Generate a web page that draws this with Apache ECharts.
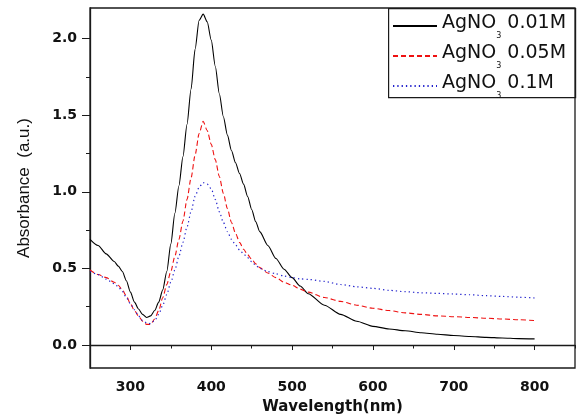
<!DOCTYPE html>
<html>
<head>
<meta charset="utf-8">
<script src="https://cdn.jsdelivr.net/npm/echarts@6/dist/echarts.min.js"></script>
<style>
  html, body { margin: 0; padding: 0; background: #ffffff; }
  #chart { width: 579px; height: 418px; }
</style>
</head>
<body>
<div id="chart"></div>
<script>
// ---- Data ----
const wavelengths = [250, 260, 270,
  280, 285, 290, 295, 300, 305, 310, 315, 320, 325, 330, 335, 340, 345, 350, 355, 360, 365,
  370, 375, 380, 385, 390, 395, 400, 405, 410, 415, 420, 425, 430, 435, 440, 445, 450, 455, 460,
  470, 480, 490, 500, 510, 520,
  540, 560, 580, 600, 620, 640, 660, 680, 700, 720, 740, 760, 780, 800];

const absorb001 = [0.69, 0.65, 0.595,
  0.545, 0.515, 0.48, 0.42, 0.345, 0.28, 0.235, 0.20, 0.18, 0.19, 0.225, 0.28, 0.36, 0.48, 0.66, 0.86, 1.04, 1.23,
  1.44, 1.67, 1.93, 2.12, 2.16, 2.11, 1.99, 1.82, 1.64, 1.49, 1.37, 1.27, 1.19, 1.12, 1.05, 0.97, 0.885, 0.805, 0.74,
  0.65, 0.565, 0.495, 0.44, 0.385, 0.335,
  0.26, 0.20, 0.155, 0.122, 0.105, 0.093, 0.08, 0.07, 0.062, 0.056, 0.05, 0.046, 0.042, 0.04];

const absorb005 = [0.49, 0.46, 0.44,
  0.41, 0.39, 0.36, 0.32, 0.27, 0.225, 0.19, 0.155, 0.135, 0.135, 0.17, 0.225, 0.31, 0.395, 0.48, 0.58, 0.69, 0.81,
  0.95, 1.09, 1.24, 1.38, 1.46, 1.40, 1.31, 1.21, 1.10, 0.99, 0.89, 0.80, 0.73, 0.67, 0.625, 0.59, 0.56, 0.53, 0.505,
  0.47, 0.44, 0.41, 0.39, 0.365, 0.345,
  0.31, 0.285, 0.26, 0.24, 0.225, 0.21, 0.20, 0.19, 0.185, 0.18, 0.175, 0.17, 0.165, 0.16];

const absorb01 = [0.48, 0.46, 0.43,
  0.40, 0.38, 0.35, 0.31, 0.27, 0.23, 0.19, 0.16, 0.145, 0.14, 0.16, 0.20, 0.26, 0.33, 0.41, 0.49, 0.58, 0.67,
  0.77, 0.87, 0.97, 1.03, 1.06, 1.05, 1.02, 0.95, 0.87, 0.80, 0.74, 0.69, 0.655, 0.62, 0.595, 0.57, 0.545, 0.52, 0.50,
  0.48, 0.465, 0.45, 0.44, 0.432, 0.428,
  0.415, 0.395, 0.38, 0.37, 0.357, 0.348, 0.341, 0.337, 0.333, 0.328, 0.322, 0.317, 0.312, 0.307];

const seriesNames = ['AgNO3 0.01M', 'AgNO3 0.05M', 'AgNO3 0.1M'];

const xTickLabels = [300, 400, 500, 600, 700, 800];
const xMajorTicks = [250, 300, 400, 500, 600, 700, 800];
const xMinorTicks = [350, 450, 550, 650, 750, 850];
const yTickLabels = [0, 0.5, 1.0, 1.5, 2.0];
const yMinorTicks = [0.25, 0.75, 1.25, 1.75];

// ---- Chart ----
const pairs = (vals) => wavelengths.map((w, i) => [w, vals[i]]);
const chart = echarts.init(document.getElementById('chart'), null, { renderer: 'canvas' });

const axisColor = '#1a1a1a';
const tickFont = { fontFamily: 'DejaVu Sans', fontWeight: 'bold', fontSize: 14, color: '#111' };

const option = {
  animation: false,
  backgroundColor: '#ffffff',
  grid: { left: 90, right: 4, top: 8, bottom: 50, outerBoundsMode: 'none', containLabel: false,
          show: true, borderColor: axisColor, borderWidth: 1.3, backgroundColor: 'transparent' },
  xAxis: [
    {
      type: 'value', min: 250, max: 850,
      name: 'Wavelength(nm)', nameLocation: 'middle', nameGap: 32,
      nameTextStyle: { fontFamily: 'DejaVu Sans', fontWeight: 'bold', fontSize: 15, color: '#111' },
      axisLine: { show: true, lineStyle: { color: axisColor, width: 1.3 } },
      axisTick: { show: true, length: 5, customValues: xMajorTicks, lineStyle: { color: axisColor, width: 1 } },
      axisLabel: Object.assign({ margin: 12, customValues: xTickLabels }, tickFont),
      splitLine: { show: false }
    },
    {
      type: 'value', min: 250, max: 850, position: 'bottom',
      axisLine: { show: false },
      axisTick: { show: true, length: 3.5, customValues: xMinorTicks, lineStyle: { color: axisColor, width: 1 } },
      axisLabel: { show: false },
      splitLine: { show: false }
    }
  ],
  yAxis: [
    {
      type: 'value', min: -0.15, max: 2.2,
      name: 'Absorbance  (a.u.)', nameLocation: 'middle', nameGap: 57, nameRotate: 90,
      nameTextStyle: { fontFamily: 'Liberation Sans', fontSize: 17, color: '#111' },
      axisLine: { show: true, lineStyle: { color: axisColor, width: 1.3 } },
      axisTick: { show: true, length: 8, customValues: yTickLabels, lineStyle: { color: axisColor, width: 1 } },
      axisLabel: Object.assign({ margin: 13, customValues: yTickLabels, formatter: (v) => v.toFixed(1) }, tickFont),
      splitLine: { show: false }
    },
    {
      type: 'value', min: -0.15, max: 2.2, position: 'left',
      axisLine: { show: false },
      axisTick: { show: true, length: 4, customValues: yMinorTicks, lineStyle: { color: axisColor, width: 1 } },
      axisLabel: { show: false },
      splitLine: { show: false }
    }
  ],
  legend: {
    orient: 'vertical', left: 389, top: 8,
    padding: [6, 4, 2, 3],
    itemWidth: 44, itemHeight: 12, itemGap: 4,
    itemStyle: { opacity: 0 },
    data: seriesNames,
    formatter: (name) => {
      const conc = name.split(' ')[1];
      return '{a|AgNO}{s|3}{a| ' + conc + '}';
    },
    textStyle: {
      color: '#111',
      rich: {
        a: { fontFamily: 'DejaVu Sans', fontSize: 19, color: '#111', lineHeight: 24, verticalAlign: 'top' },
        s: { fontFamily: 'DejaVu Sans', fontSize: 8, color: '#111', lineHeight: 8, verticalAlign: 'top', padding: [18, 0, 0, 0] }
      }
    }
  },
  graphic: [
    { type: 'rect', left: 388, top: 8, shape: { width: 187, height: 89 }, style: { fill: 'transparent', stroke: axisColor, lineWidth: 1.2 }, silent: true }
  ],
  series: [
    { name: seriesNames[0], type: 'line', data: pairs(absorb001), symbol: 'none', smooth: 0.25, smoothMonotone: 'x',
      lineStyle: { color: '#000000', width: 1.1, type: 'solid' }, itemStyle: { color: '#000000' } },
    { name: seriesNames[1], type: 'line', data: pairs(absorb005), symbol: 'none', smooth: 0.25, smoothMonotone: 'x',
      lineStyle: { color: '#ee1111', width: 1.1, type: [5, 3] }, itemStyle: { color: '#ee1111' } },
    { name: seriesNames[2], type: 'line', data: pairs(absorb01), symbol: 'none', smooth: 0.25, smoothMonotone: 'x',
      lineStyle: { color: '#2222cc', width: 1.2, type: [1.3, 3] }, itemStyle: { color: '#2222cc' } }
  ]
};
chart.setOption(option);
</script>
</body>
</html>
